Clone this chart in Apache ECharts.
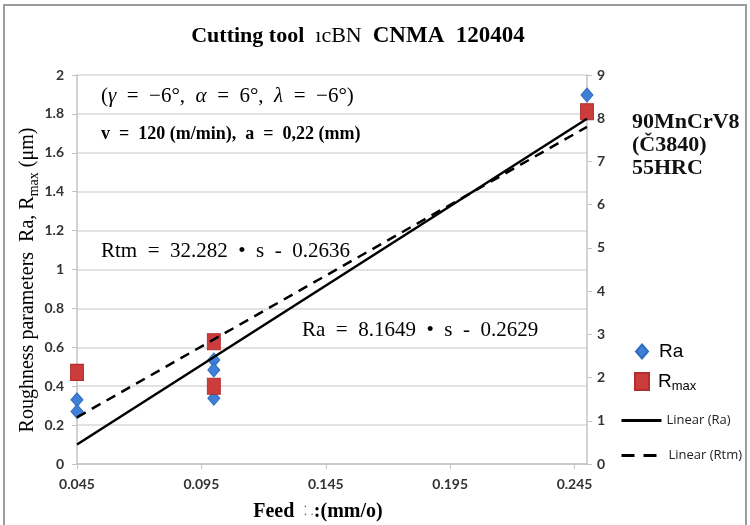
<!DOCTYPE html>
<html><head><meta charset="utf-8">
<script src="https://cdn.jsdelivr.net/npm/echarts@6/dist/echarts.min.js"></script>
<style>html,body{margin:0;padding:0;background:#fff}#c{width:750px;height:525px}</style>
</head><body><div id="c"></div>
<script>
// ---- data ----
const feedTicks = [0.045, 0.095, 0.145, 0.195, 0.245];
const raFeed = [0.045, 0.045, 0.1, 0.1, 0.1, 0.25];
const raValues = [0.33, 0.27, 0.535, 0.483, 0.338, 1.897];
const rmaxFeed = [0.045, 0.1, 0.1, 0.25];
const rmaxValues = [2.12, 2.83, 1.80, 8.15];
const trendFeed = [0.045, 0.25];
const raTrend = [0.10, 1.775];
const rtmTrend = [1.08, 7.80];
const leftTicks = [0, 0.2, 0.4, 0.6, 0.8, 1, 1.2, 1.4, 1.6, 1.8, 2];
const rightTicks = [0, 1, 2, 3, 4, 5, 6, 7, 8, 9];

const zip = (a, b) => a.map((v, i) => [v, b[i]]);
const serif = 'Liberation Serif';
const lblFont = {fontFamily: 'Lato', fontWeight: 'bold', fontSize: 14, color: '#333'};

const chart = echarts.init(document.getElementById('c'), null, {renderer: 'canvas'});
chart.setOption({
  animation: false,
  backgroundColor: '#fff',
  grid: {left: 77, right: 163, top: 75, bottom: 61, containLabel: false, outerBoundsMode: 'none'},
  xAxis: {
    type: 'value', min: 0.045, max: 0.25,
    axisLine: {show: true, lineStyle: {color: '#c4c4c4', width: 1.5}},
    axisTick: {show: true, length: 5, customValues: feedTicks, lineStyle: {color: '#c4c4c4'}},
    axisLabel: Object.assign({customValues: feedTicks, margin: 13, formatter: v => v.toFixed(3)}, lblFont),
    splitLine: {show: false}
  },
  yAxis: [{
    type: 'value', min: leftTicks[0], max: leftTicks[leftTicks.length - 1], interval: 0.2,
    axisLine: {show: true, lineStyle: {color: '#c4c4c4', width: 1.5}},
    axisTick: {show: true, length: 5, lineStyle: {color: '#c4c4c4'}},
    axisLabel: Object.assign({margin: 13, formatter: v => String(Math.round(v * 10) / 10)}, lblFont),
    splitLine: {show: true, lineStyle: {color: '#d9d9d9', width: 1.5}}
  }, {
    type: 'value', position: 'right', min: rightTicks[0], max: rightTicks[rightTicks.length - 1], interval: 1,
    axisLine: {show: true, lineStyle: {color: '#c4c4c4', width: 1.5}},
    axisTick: {show: true, length: 5, lineStyle: {color: '#c4c4c4'}},
    axisLabel: Object.assign({margin: 10}, lblFont),
    splitLine: {show: false}
  }],
  legend: [
    {data: ['Ra'], left: 635, top: 342, padding: 0, itemWidth: 12, itemHeight: 14, itemGap: 0,
     textStyle: {fontFamily: 'Liberation Sans', fontSize: 19, color: '#000', padding: [0, 0, 0, 6]}},
    {data: ['Rmax'], left: 634, top: 372, padding: 0, itemWidth: 14, itemHeight: 17, itemGap: 0,
     formatter: () => '{r|R}{s|max}',
     textStyle: {color: '#000', padding: [0, 0, 0, 4], rich: {
       r: {fontFamily: 'Liberation Sans', fontSize: 19, verticalAlign: 'bottom'},
       s: {fontFamily: 'Liberation Sans', fontSize: 13, verticalAlign: 'bottom', padding: [0, 0, -2, 0]}}}},
    {data: ['Linear (Ra)'], left: 620, top: 414, padding: 0, itemWidth: 40, itemHeight: 14, itemGap: 0,
     itemStyle: {opacity: 0}, lineStyle: {width: 3},
     textStyle: {fontFamily: 'Open Sans', fontSize: 13, color: '#222'}},
    {data: ['Linear (Rtm)'], left: 620, top: 449, padding: 0, itemWidth: 40, itemHeight: 14, itemGap: 0,
     itemStyle: {opacity: 0}, lineStyle: {width: 3, type: [13, 9]},
     textStyle: {fontFamily: 'Open Sans', fontSize: 13, color: '#222', padding: [0, 0, 0, 2]}}
  ],
  series: [
    {name: 'Ra', type: 'scatter', yAxisIndex: 0, data: zip(raFeed, raValues), symbol: 'diamond',
     symbolSize: [12, 14], itemStyle: {color: '#3f80d6', borderColor: '#2f6cc0', borderWidth: 1, opacity: 1}, z: 2},
    {name: 'Rmax', type: 'scatter', yAxisIndex: 1, data: zip(rmaxFeed, rmaxValues), symbol: 'rect',
     symbolSize: [13, 16], itemStyle: {color: '#cc3c3c', borderColor: '#b22e2e', borderWidth: 1, opacity: 1}, z: 2},
    {name: 'Linear (Ra)', type: 'line', yAxisIndex: 0, data: zip(trendFeed, raTrend), symbol: 'none',
     lineStyle: {color: '#000', width: 2.5}, itemStyle: {color: '#000'}, z: 3},
    {name: 'Linear (Rtm)', type: 'line', yAxisIndex: 1, data: zip(trendFeed, rtmTrend), symbol: 'none',
     lineStyle: {color: '#000', width: 2.5, type: [10, 7]}, itemStyle: {color: '#000'}, z: 3}
  ],
  graphic: [
    {type: 'rect', shape: {x: 4, y: 5, width: 742, height: 540}, silent: true,
     style: {fill: 'none', stroke: '#9c9c9c', lineWidth: 2}, z: 100},
    {type: 'text', x: 358, y: 36, silent: true, style: {
      text: '{b|Cutting tool }{n| ıcBN  }{c|CNMA  120404}', align: 'center', verticalAlign: 'middle',
      rich: {b: {fontFamily: serif, fontWeight: 'bold', fontSize: 22, fill: '#000'},
             n: {fontFamily: serif, fontSize: 22, fill: '#000'},
             c: {fontFamily: serif, fontWeight: 'bold', fontSize: 23, fill: '#000'}}}},
    {type: 'text', x: 101, y: 96, silent: true, style: {
      text: '{t|(}{i|γ}{t|  =  −6°,  }{i|α}{t|  =  6°,  }{i|λ}{t|  =  −6°)}', verticalAlign: 'middle',
      rich: {t: {fontFamily: serif, fontSize: 21, fill: '#000'},
             i: {fontFamily: serif, fontStyle: 'italic', fontSize: 21, fill: '#000'}}}},
    {type: 'text', x: 101, y: 134, silent: true, style: {
      text: 'v  =  120 (m/min),  a  =  0,22 (mm)', verticalAlign: 'middle',
      fontFamily: serif, fontWeight: 'bold', fontSize: 18, fill: '#000'}},
    {type: 'text', x: 101, y: 251, silent: true, style: {
      text: 'Rtm  =  32.282  •  s  -  0.2636', verticalAlign: 'middle',
      fontFamily: serif, fontSize: 21, fill: '#000'}},
    {type: 'text', x: 302, y: 330, silent: true, style: {
      text: 'Ra  =  8.1649  •  s  -  0.2629', verticalAlign: 'middle',
      fontFamily: serif, fontSize: 21, fill: '#000'}},
    {type: 'text', x: 632, y: 111, silent: true, style: {
      text: '90MnCrV8\n(Č3840)\n55HRC', verticalAlign: 'top', lineHeight: 23,
      fontFamily: serif, fontWeight: 'bold', fontSize: 22, fill: '#111'}},
    {type: 'text', x: 28, y: 280, rotation: Math.PI / 2, silent: true, style: {
      text: '{t|Roughness parameters  Ra, R}{s|max}{t| (μm)}', align: 'center', verticalAlign: 'middle',
      rich: {t: {fontFamily: serif, fontSize: 20, fill: '#000', verticalAlign: 'bottom'},
             s: {fontFamily: serif, fontSize: 14, fill: '#000', verticalAlign: 'bottom', padding: [0, 0, -3, 0]}}}},
    {type: 'text', x: 318, y: 512, silent: true, style: {
      text: '{t|Feed  }{d|⁚ .}{t|:(mm/o)}', align: 'center', verticalAlign: 'middle',
      rich: {t: {fontFamily: serif, fontWeight: 'bold', fontSize: 20, fill: '#000'},
             d: {fontFamily: serif, fontSize: 13, fill: '#666'}}}}
  ]
});
</script></body></html>
